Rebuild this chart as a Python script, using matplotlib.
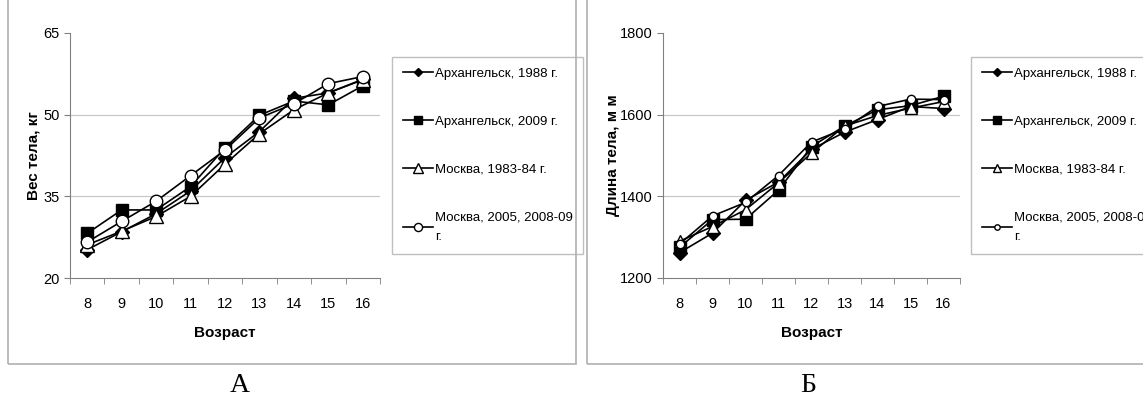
import numpy as np
import matplotlib
matplotlib.use('Agg')
from matplotlib import pyplot as plt
from matplotlib.patches import Rectangle
from matplotlib.ticker import FixedLocator

plt.rcParams['font.family'] = ['Liberation Sans Narrow', 'Liberation Sans', 'DejaVu Sans']

ages = [8, 9, 10, 11, 12, 13, 14, 15, 16]
series_names = ['Архангельск, 1988 г.', 'Архангельск, 2009 г.',
                'Москва, 1983-84 г.', 'Москва, 2005, 2008-09\nг.']

# panel A: body weight, kg
weight_arh_1988 = [25.2, 28.5, 31.8, 36.0, 42.1, 46.9, 53.0, 54.0, 56.5]
weight_arh_2009 = [28.2, 32.5, 32.5, 36.8, 43.9, 49.9, 52.5, 51.8, 55.3]
weight_msk_1983 = [26.1, 28.6, 31.3, 35.0, 40.9, 46.5, 50.9, 54.0, 56.4]
weight_msk_2005 = [26.6, 30.4, 34.1, 38.8, 43.5, 49.4, 52.0, 55.7, 57.0]

# panel B: body length, mm
length_arh_1988 = [1262, 1310, 1390, 1435, 1515, 1557, 1588, 1620, 1615]
length_arh_2009 = [1275, 1343, 1344, 1415, 1522, 1572, 1612, 1622, 1645]
length_msk_1983 = [1290, 1326, 1367, 1433, 1506, 1572, 1598, 1616, 1632]
length_msk_2005 = [1283, 1352, 1385, 1451, 1533, 1565, 1620, 1638, 1637]

W, H = 1143, 403
fig = plt.figure(figsize=(W / 100, H / 100), dpi=100)
fig.set_facecolor('white')

# panel frames
fig.patches.append(Rectangle((8 / W, 1 - 364 / H), 568 / W, 364 / H + 0.05,
                             transform=fig.transFigure, fill=False,
                             edgecolor='#b0b0b0', linewidth=1.2))
fig.patches.append(Rectangle((587 / W, 1 - 364 / H), 600 / W, 364 / H + 0.05,
                             transform=fig.transFigure, fill=False,
                             edgecolor='#b0b0b0', linewidth=1.2))


def draw_panel(ax, data, yticks, ylabel, marker_sizes, leg_x, label_x):
    styles = [dict(marker='D', mfc='black', mec='black'),
              dict(marker='s', mfc='black', mec='black'),
              dict(marker='^', mfc='white', mec='black'),
              dict(marker='o', mfc='white', mec='black')]
    for values, name, st, ms in zip(data, series_names, styles, marker_sizes):
        ax.plot(ages, values, color='black', lw=1.2, ms=ms, mew=1.0,
                label=name, **st)
    ax.set_xlim(7.5, 16.5)
    ax.set_ylim(yticks[0], yticks[-1])
    ax.set_xticks(ages)
    ax.xaxis.set_minor_locator(FixedLocator(np.arange(7.5, 17, 1)))
    ax.tick_params(axis='x', which='major', length=0, labelsize=10.5, pad=14)
    ax.tick_params(axis='x', which='minor', length=4, color='#808080')
    ax.set_yticks(yticks)
    ax.tick_params(axis='y', length=4, color='#808080', labelsize=10.5)
    for y in yticks[1:-1]:
        ax.axhline(y, color='#c8c8c8', lw=0.9, zorder=0)
    for side in ['top', 'right']:
        ax.spines[side].set_visible(False)
    for side in ['left', 'bottom']:
        ax.spines[side].set_color('#808080')
    ax.set_xlabel('Возраст', fontsize=11, fontweight='bold')
    ax.xaxis.set_label_coords(0.5, -(333 - 278) / 245, transform=ax.transAxes)
    ax.set_ylabel(ylabel, fontsize=11, fontweight='bold')
    ax.yaxis.set_label_coords(label_x, 0.5, transform=ax.transAxes)
    ax.xaxis.label.set_va('center')
    ax.yaxis.label.set_va('center')
    leg = ax.legend(loc='upper left', bbox_to_anchor=(leg_x / W, 1 - 57 / H),
                    bbox_transform=fig.transFigure, fancybox=False,
                    edgecolor='#b0b0b0', fontsize=9.5, labelspacing=2.7,
                    handlelength=2.3, handletextpad=0.15, borderpad=0.8,
                    borderaxespad=0, markerscale=0.65)
    leg.get_frame().set_linewidth(1.0)
    for t in leg.get_texts():
        t.set_linespacing(1.9)


ax1 = fig.add_axes([70 / W, 1 - 278 / H, 310 / W, 245 / H])
draw_panel(ax1, [weight_arh_1988, weight_arh_2009, weight_msk_1983, weight_msk_2005],
           [20, 35, 50, 65], 'Вес тела, кг', [7, 9, 10, 9], 392, (33 - 70) / 310)

ax2 = fig.add_axes([663 / W, 1 - 278 / H, 297 / W, 245 / H])
draw_panel(ax2, [length_arh_1988, length_arh_2009, length_msk_1983, length_msk_2005],
           [1200, 1400, 1600, 1800], 'Длина тела, м м', [7, 8, 9, 6], 971,
           (613 - 663) / 297)

fig.text(240 / W, 1 - 385 / H, 'А', family='Liberation Serif', fontsize=20,
         ha='center', va='center')
fig.text(808 / W, 1 - 385 / H, 'Б', family='Liberation Serif', fontsize=20,
         ha='center', va='center')

fig.savefig('out.png', dpi=100)
